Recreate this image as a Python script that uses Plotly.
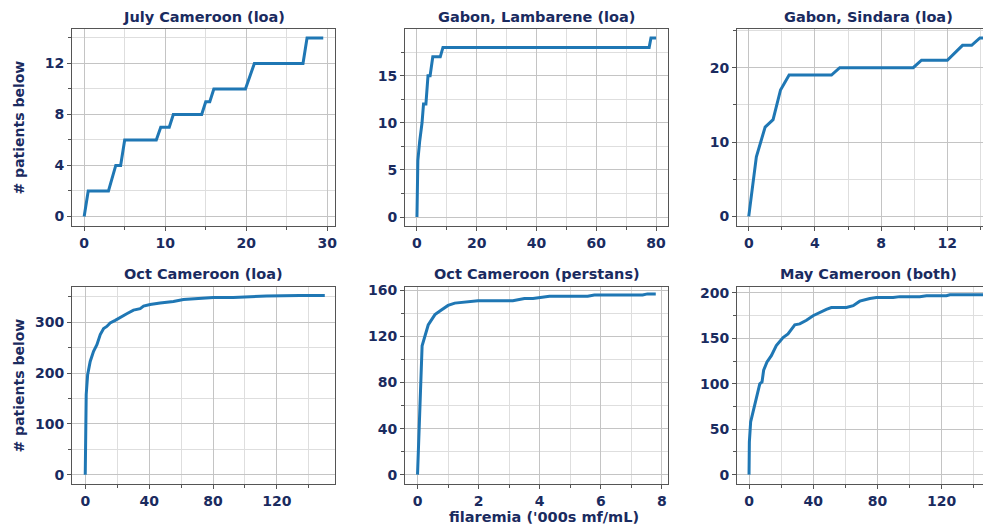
import plotly.graph_objects as go

# The page body has an 8px margin, so the figure is laid out in page pixels minus that offset.
OFF = 8
W, H = 991 - OFF, 530 - OFF

# ---------------- data ----------------
titles = ["July Cameroon (loa)", "Gabon, Lambarene (loa)", "Gabon, Sindara (loa)",
          "Oct Cameroon (loa)", "Oct Cameroon (perstans)", "May Cameroon (both)"]

july_x = [0, 0.5, 3.0, 3.9, 4.5, 5.0, 8.9, 9.45, 10.5, 11.0, 14.5, 15.0, 15.5, 16.0, 19.9, 21.0, 27.0, 27.5, 29.5]
july_y = [0, 2, 2, 4, 4, 6, 6, 7, 7, 8, 8, 9, 9, 10, 10, 12, 12, 14, 14]

lamb_x = [0, 0.3, 0.9, 1.7, 2.2, 3.0, 3.7, 4.4, 5.3, 7.8, 8.7, 77.7, 78.3, 80]
lamb_y = [0, 6, 8, 10, 12, 12, 15, 15, 17, 17, 18, 18, 19, 19]

sind_x = [0, 0.46, 0.99, 1.47, 1.92, 2.44, 5.0, 5.5, 9.94, 10.44, 12.0, 12.92, 13.47, 13.97, 14.9]
sind_y = [0, 8, 12, 13, 17, 19, 19, 20, 20, 21, 21, 23, 23, 24, 24]

octl_x = [0, 0.2, 0.6, 1.5, 3.1, 5.2, 7.3, 9.4, 11.5, 13.5, 15.6, 18.75, 21.9, 26, 30.2, 34.4, 36.5,
          40.6, 46.9, 55.2, 61.5, 71.9, 80.2, 92.7, 103, 113.5, 134.4, 150]
octl_y = [0, 98, 158, 197, 223, 243, 256, 276, 288, 292, 299, 304, 310, 317, 324, 327, 332,
          335, 338, 341, 345, 348, 349, 349, 351, 352, 353, 353]

pers_x = [0, 0.15, 0.35, 0.57, 0.78, 1.0, 1.22, 1.55, 1.98, 3.12, 3.5, 3.78, 4.05, 4.32, 5.57, 5.79, 7.37, 7.53, 7.8]
pers_y = [0, 112, 130, 139, 143, 147, 149, 150, 151, 151, 153, 153, 154, 155, 155, 156, 156, 157, 157]

may_x = [0, 0.2, 1.0, 2.5, 4.6, 6.7, 8.1, 9.1, 11.2, 13.9, 17, 21.2, 24.3, 26.4, 28.5, 31.6, 35.8, 39.9,
         44.1, 48.2, 51.3, 60.7, 64.9, 69, 75.3, 79.4, 89.8, 94, 106.4, 110.6, 123, 125.2, 150]
may_y = [0, 36, 58, 69, 87, 100, 102, 115, 124, 131, 142, 151, 155, 160, 165, 166, 170, 175,
         179, 182, 184, 184, 186, 191, 194, 195, 195, 196, 196, 197, 197, 198, 198]

series_x = [july_x, lamb_x, sind_x, octl_x, pers_x, may_x]
series_y = [july_y, lamb_y, sind_y, octl_y, pers_y, may_y]

# axis specs: (range, major dtick, minor dtick)
x_specs = [([-1.5, 30.95], 10, 5), ([-4, 84], 20, 10), ([-0.71, 14.64], 4, 2),
           ([-8.3, 156.4], 40, 20), ([-0.41, 8.2], 2, 1), ([-7.5, 150.8], 40, 20)]
y_specs = [([-0.75, 14.7], 4, 2), ([-0.95, 19.95], 5, 2.5), ([-1.3, 25.2], 10, 5),
           ([-18.3, 369.6], 100, 50), ([-8.1, 163], 40, 20), ([-10.3, 206.6], 50, 25)]

# ---------------- layout ----------------
NAVY = "#1a2b5f"
BLUE = "#1f77b4"
FONT = "DejaVu Sans"

# page-pixel boxes of the plot frames
col_px = [(72, 335), (405, 668), (737, 1000)]
row_px = [(29, 226), (287, 484)]


def px_x(p):
    return (p - OFF) / W


def px_y(p):
    return 1 - (p - OFF) / H


fig = go.Figure()
layout = dict(
    width=W, height=H,
    margin=dict(l=0, r=0, t=0, b=0),
    template="none",
    paper_bgcolor="white", plot_bgcolor="white",
    showlegend=False,
    font=dict(family=FONT, color=NAVY, size=13, weight="bold"),
)

annotations = []
for i in range(6):
    r, c = divmod(i, 3)
    n = "" if i == 0 else str(i + 1)
    xd = [px_x(col_px[c][0]), min(px_x(col_px[c][1]), 1.0)]
    yd = [px_y(row_px[r][1]), px_y(row_px[r][0])]
    fig.add_trace(go.Scatter(x=series_x[i], y=series_y[i], mode="lines",
                             line=dict(color=BLUE, width=3),
                             xaxis="x" + n, yaxis="y" + n))
    xr, xmaj, xmin = x_specs[i]
    yr, ymaj, ymin = y_specs[i]
    common = dict(showline=True, linecolor="#555555", linewidth=1,
                  showgrid=True, gridcolor="#c4c4c4", gridwidth=1,
                  ticks="outside", ticklen=4, tickwidth=1, tickcolor="#555555",
                  zeroline=False, automargin=False,
                  tickfont=dict(family=FONT, size=14, color=NAVY, weight="bold"))
    layout["xaxis" + n] = dict(common, domain=xd, range=xr, tick0=0, dtick=xmaj,
                               anchor="y" + n, mirror=True,
                               minor=dict(dtick=xmin, tick0=0, showgrid=True, gridcolor="#dedede",
                                          ticks="outside", ticklen=3, tickcolor="#555555"))
    layout["yaxis" + n] = dict(common, domain=yd, range=yr, tick0=0, dtick=ymaj,
                               anchor="x" + n, mirror=(c != 2),
                               minor=dict(dtick=ymin, tick0=0, showgrid=True, gridcolor="#dedede",
                                          ticks="outside", ticklen=3, tickcolor="#555555"))
    # subplot title
    cx = px_x((col_px[c][0] + col_px[c][1]) / 2)
    if r == 0:
        annotations.append(dict(text=titles[i], x=cx, y=1.0, xref="paper", yref="paper",
                                xanchor="center", yanchor="top", showarrow=False, borderpad=0,
                                font=dict(family=FONT, size=14.5, color=NAVY, weight="bold")))
    else:
        annotations.append(dict(text=titles[i], x=cx, y=px_y(274), xref="paper", yref="paper",
                                xanchor="center", yanchor="middle", showarrow=False, borderpad=0,
                                font=dict(family=FONT, size=14.5, color=NAVY, weight="bold")))

# y-axis labels
for r in range(2):
    cy = (row_px[r][0] + row_px[r][1]) / 2
    annotations.append(dict(text="# patients below", x=px_x(18), y=px_y(cy), xref="paper", yref="paper",
                            xanchor="center", yanchor="middle", textangle=-90, showarrow=False,
                            font=dict(family=FONT, size=14, color=NAVY, weight="bold")))
# x-axis label
annotations.append(dict(text="filaremia ('000s mf/mL)", x=px_x(544), y=px_y(517), xref="paper", yref="paper",
                        xanchor="center", yanchor="middle", showarrow=False,
                        font=dict(family=FONT, size=14.5, color=NAVY, weight="bold")))

layout["annotations"] = annotations
fig.update_layout(**layout)
fig.write_html("out.html")
